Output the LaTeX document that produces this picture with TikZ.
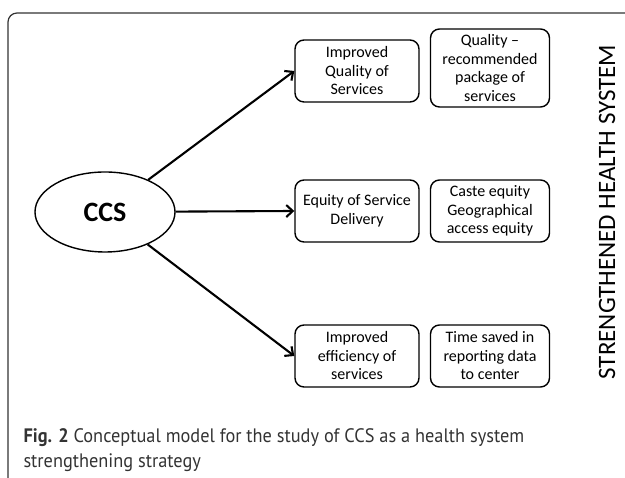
\documentclass[tikz,border=0pt]{standalone}
\usepackage{fontspec}
\setmainfont{Carlito}
\newfontfamily\capfont[FakeStretch=0.94]{PT Sans}
\usetikzlibrary{positioning,arrows.meta,shapes.geometric}

\begin{document}
\begin{tikzpicture}[x=1pt,y=1pt,node distance=133pt,on grid,
        box/.style={draw,line width=1.4pt,rounded corners=9pt,align=center,
                font=\fontsize{16}{18.5}\selectfont,minimum height=62pt},
        lbox/.style={box,minimum width=124pt},
        rbox/.style={box,minimum width=119pt},
        arr/.style={line width=2.1pt,-{Straight Barb[length=6.5pt,width=12pt,line width=2.1pt]}}]
        \useasboundingbox (0,0) rectangle (625,478);
        % frame
        \draw[line width=1.2pt,black!80,rounded corners=9pt] (626,465) -- (8,465) -- (8,-1);
        \node[ellipse,draw,line width=1.4pt,minimum width=140pt,minimum height=80pt,
                font=\fontsize{28}{32}\selectfont\bfseries] (ccs) at (105,266) {CCS};
        \node[lbox] (quality) at (357,407) {Improved\\Quality of\\Services};
        \node[rbox,minimum height=78pt] (package) at (490,410) {Quality --\\recommended\\package of\\services};
        \node[lbox] (equity) at (357,267) {Equity of Service\\Delivery};
        \node[rbox,right=of equity] (caste) {Caste equity\\Geographical\\access equity};
        \node[lbox] (efficiency) at (357,122) {Improved\\efficiency of\\services};
        \node[rbox,right=of efficiency] (time) {Time saved in\\reporting data\\to center};
        \node[rotate=90,font=\fontsize{25}{28}\selectfont] (system) at (607,266) {STRENGTHENED HEALTH SYSTEM};
        \path[arr]
                (ccs) edge (quality.west)
                (ccs) edge (equity.west)
                (ccs) edge (efficiency.west);
        % caption
        \node[anchor=north west,align=left,text=black!80,
                font=\capfont\fontsize{19.5}{25.5}\selectfont] (caption) at (20,53)
                {\textbf{Fig. 2} Conceptual model for the study of CCS as a health system\\strengthening strategy};
\end{tikzpicture}
\end{document}
